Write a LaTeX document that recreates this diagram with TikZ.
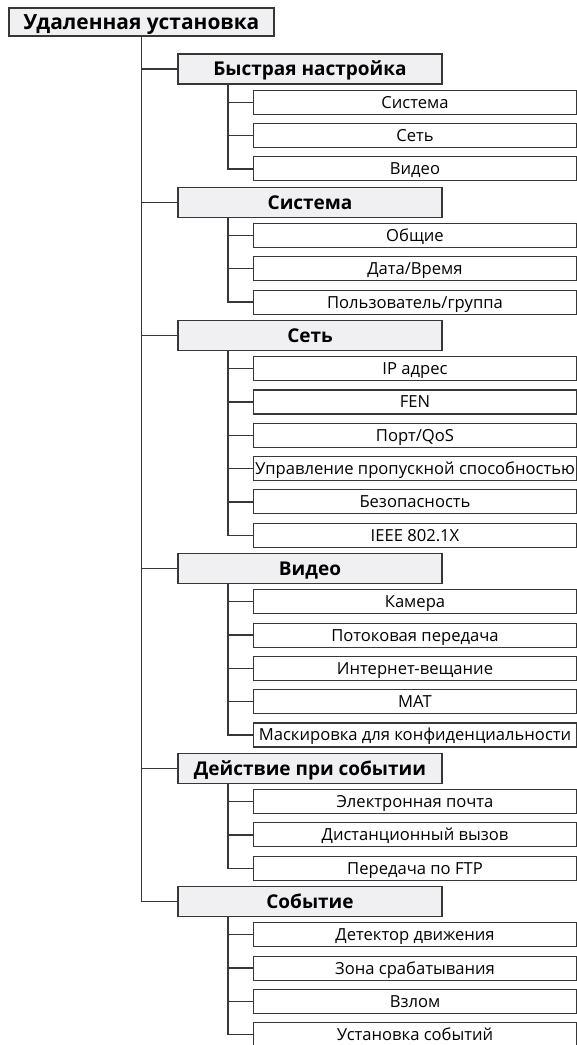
\documentclass[tikz,border=0pt]{standalone}
\usepackage{fontspec}
\setmainfont{Open Sans}
\usetikzlibrary{positioning}
\definecolor{linegray}{RGB}{55, 55, 55}
\definecolor{secfill}{RGB}{240, 240, 242}
\tikzset{
    root/.style={rectangle, draw=linegray, fill=secfill, line width=1.3pt, minimum width=265pt, minimum height=28pt, inner sep=0pt, outer sep=0pt, text height=14.9pt, text depth=0pt, font=\fontsize{20.9}{20.9}\selectfont\bfseries},
    section/.style={rectangle, draw=linegray, fill=secfill, line width=1.3pt, minimum width=264pt, minimum height=30pt, inner sep=0pt, outer sep=0pt, text height=13.6pt, text depth=0pt, font=\fontsize{19}{19}\selectfont\bfseries},
    leaf/.style={rectangle, draw=linegray, fill=white, line width=1.1pt, minimum width=323pt, minimum height=24pt, inner sep=0pt, outer sep=0pt, text height=11.9pt, text depth=0pt, font=\fontsize{16.6}{16.6}\selectfont},
    branch/.style={linegray, line width=1.3pt}
}

\begin{document}
\begin{tikzpicture}[x=1pt, y=1pt]
            \useasboundingbox (0,0) rectangle (577,-1045);
            \node (root) [root] at (141.5,-22) {Удаленная установка};

            \node (quick) [section, below=18pt of root, xshift=168.5pt] {Быстрая настройка};
            \node (qsys) [leaf, below=6.3pt of quick, xshift=105pt] {Система};
            \node (qnet) [leaf, below=9.3pt of qsys] {Сеть};
            \node (qvid) [leaf, below=9.3pt of qnet] {Видео};

            \node (sys) [section, below=6.3pt of qvid, xshift=-105pt] {Система};
            \node (general) [leaf, below=6.3pt of sys, xshift=105pt] {Общие};
            \node (datetime) [leaf, below=9.3pt of general] {Дата/Время};
            \node (users) [leaf, below=9.3pt of datetime] {Пользователь/группа};

            \node (net) [section, below=6.3pt of users, xshift=-105pt] {Сеть};
            \node (ip) [leaf, below=6.3pt of net, xshift=105pt] {IP адрес};
            \node (fen) [leaf, below=9.3pt of ip] {FEN};
            \node (port) [leaf, below=9.3pt of fen] {Порт/QoS};
            \node (bw) [leaf, below=9.3pt of port] {Управление пропускной способностью};
            \node (secure) [leaf, below=9.3pt of bw] {Безопасность};
            \node (ieee) [leaf, below=9.3pt of secure] {IEEE 802.1X};

            \node (video) [section, below=6.3pt of ieee, xshift=-105pt] {Видео};
            \node (camera) [leaf, below=6.3pt of video, xshift=105pt] {Камера};
            \node (stream) [leaf, below=9.3pt of camera] {Потоковая передача};
            \node (webcast) [leaf, below=9.3pt of stream] {Интернет-вещание};
            \node (mat) [leaf, below=9.3pt of webcast] {MAT};
            \node (mask) [leaf, below=9.3pt of mat] {Маскировка для конфиденциальности};

            \node (action) [section, below=6.3pt of mask, xshift=-105pt] {Действие при событии};
            \node (email) [leaf, below=6.3pt of action, xshift=105pt] {Электронная почта};
            \node (remote) [leaf, below=9.3pt of email] {Дистанционный вызов};
            \node (ftp) [leaf, below=9.3pt of remote] {Передача по FTP};

            \node (event) [section, below=6.3pt of ftp, xshift=-105pt] {Событие};
            \node (motion) [leaf, below=6.3pt of event, xshift=105pt] {Детектор движения};
            \node (zone) [leaf, below=9.3pt of motion] {Зона срабатывания};
            \node (tamper) [leaf, below=9.3pt of zone] {Взлом};
            \node (evset) [leaf, below=9.3pt of tamper] {Установка событий};

            % main trunk
            \draw [branch] (root.south) |- (quick.west);
            \draw [branch] (root.south) |- (sys.west);
            \draw [branch] (root.south) |- (net.west);
            \draw [branch] (root.south) |- (video.west);
            \draw [branch] (root.south) |- (action.west);
            \draw [branch] (root.south) |- (event.west);

            % sub branches
            \draw [branch] ([xshift=50pt]quick.south west) |- (qsys.west);
            \draw [branch] ([xshift=50pt]quick.south west) |- (qnet.west);
            \draw [branch] ([xshift=50pt]quick.south west) |- (qvid.west);

            \draw [branch] ([xshift=50pt]sys.south west) |- (general.west);
            \draw [branch] ([xshift=50pt]sys.south west) |- (datetime.west);
            \draw [branch] ([xshift=50pt]sys.south west) |- (users.west);

            \draw [branch] ([xshift=50pt]net.south west) |- (ip.west);
            \draw [branch] ([xshift=50pt]net.south west) |- (fen.west);
            \draw [branch] ([xshift=50pt]net.south west) |- (port.west);
            \draw [branch] ([xshift=50pt]net.south west) |- (bw.west);
            \draw [branch] ([xshift=50pt]net.south west) |- (secure.west);
            \draw [branch] ([xshift=50pt]net.south west) |- (ieee.west);

            \draw [branch] ([xshift=50pt]video.south west) |- (camera.west);
            \draw [branch] ([xshift=50pt]video.south west) |- (stream.west);
            \draw [branch] ([xshift=50pt]video.south west) |- (webcast.west);
            \draw [branch] ([xshift=50pt]video.south west) |- (mat.west);
            \draw [branch] ([xshift=50pt]video.south west) |- (mask.west);

            \draw [branch] ([xshift=50pt]action.south west) |- (email.west);
            \draw [branch] ([xshift=50pt]action.south west) |- (remote.west);
            \draw [branch] ([xshift=50pt]action.south west) |- (ftp.west);

            \draw [branch] ([xshift=50pt]event.south west) |- (motion.west);
            \draw [branch] ([xshift=50pt]event.south west) |- (zone.west);
            \draw [branch] ([xshift=50pt]event.south west) |- (tamper.west);
            \draw [branch] ([xshift=50pt]event.south west) |- (evset.west);
        \end{tikzpicture}
\end{document}
